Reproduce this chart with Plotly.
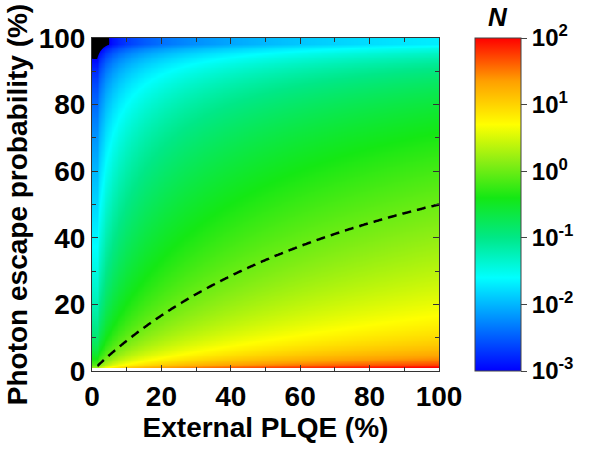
import numpy as np
import plotly.graph_objects as go

# Axis grids (percent) - sample centres of the N map
plqe = np.arange(1.5, 100.001, 0.25)       # External PLQE (%)
pesc = np.arange(1.0, 98.001, 0.25)        # Photon escape probability (%)
# N = eta_ext * (1 - P_esc) / P_esc  (average number of photon recycling events)
X, Y = np.meshgrid(plqe / 100.0, pesc / 100.0)
logN = np.log10(X * (1 - Y) / Y)

cbar_tickvals = [-3, -2, -1, 0, 1, 2]
cbar_ticktext = ["10<sup>-3</sup>", "10<sup>-2</sup>", "10<sup>-1</sup>",
                 "10<sup>0</sup>", "10<sup>1</sup>", "10<sup>2</sup>"]
axis_ticks = [0, 20, 40, 60, 80, 100]
axis_minor = [10, 30, 50, 70, 90]
zmin, zmax = -3, 2
n_level = 0  # log10(N) = 0 -> N = 1

# cell edges: the map image is stretched to the frame edges (as in the original)
x_edges = np.concatenate([[0.0], (plqe[:-1] + plqe[1:]) / 2, [100.0]])
y_edges = np.concatenate([[pesc[0] - 0.125], (pesc[:-1] + pesc[1:]) / 2, [100.0]])
# extended centres for the under-range (black) contour so it reaches the frame
x_ext = np.concatenate([[0.0], plqe])
y_ext = np.concatenate([pesc, [100.0]])
Xe, Ye = np.meshgrid(x_ext / 100.0, np.minimum(y_ext, pesc[-1]) / 100.0)
logN_ext = np.log10(np.maximum(Xe, plqe[0] / 100.0) * (1 - Ye) / Ye)

zmap = np.round(np.clip(logN, zmin, zmax), 3)

colorscale = [
    [0.0, "rgb(0,0,255)"],
    [0.14, "rgb(0,128,255)"],
    [0.28, "rgb(0,255,255)"],
    [0.40, "rgb(0,232,135)"],
    [0.52, "rgb(20,232,20)"],
    [0.63, "rgb(140,238,20)"],
    [0.74, "rgb(255,255,0)"],
    [0.87, "rgb(255,160,0)"],
    [1.0, "rgb(255,0,0)"],
]

FONT = "Liberation Sans, Arial, sans-serif"
L, R, T, B = 92, 150, 38, 81
PW = 589 - L - R
cb_x0 = (475 - L) / PW
cb_w = 46 / PW

fig = go.Figure()
fig.add_trace(go.Heatmap(
    x=x_edges, y=y_edges, z=zmap, zmin=zmin, zmax=zmax,
    colorscale=colorscale,
    colorbar=dict(
        x=cb_x0, xanchor="left", y=0.5, yanchor="middle",
        len=1.0, lenmode="fraction", ypad=0, xpad=0,
        thickness=46, thicknessmode="pixels",
        outlinewidth=1, outlinecolor="#444",
        tickvals=cbar_tickvals, ticktext=cbar_ticktext,
        ticks="outside", ticklen=6, tickcolor="#444",
        tickfont=dict(family=FONT, size=24, color="black", weight="bold"),
    ),
    hoverinfo="skip",
))
# values below the colour range (N < 1e-3) are shown in black
# (plotly shades the region that violates the constraint)
fig.add_trace(go.Contour(
    x=x_ext, y=y_ext, z=np.round(logN_ext, 3), showscale=False,
    contours=dict(type="constraint", operation=">=", value=zmin),
    fillcolor="black", line=dict(width=0, color="black"),
    hoverinfo="skip",
))
fig.add_trace(go.Contour(
    x=plqe, y=pesc, z=np.round(logN, 3), showscale=False,
    contours=dict(start=n_level, end=n_level, size=1, coloring="lines"),
    colorscale=[[0, "black"], [1, "black"]],
    line=dict(width=2.5, dash="9px,6px"),
    hoverinfo="skip",
))

fig.add_shape(type="line", xref="paper", yref="paper",
              x0=cb_x0, x1=cb_x0 + cb_w,
              y0=(n_level - zmin) / (zmax - zmin), y1=(n_level - zmin) / (zmax - zmin),
              line=dict(color="black", width=2.5, dash="9px,6px"))

fig.add_annotation(text="<b><i>N</i></b>", xref="paper", yref="paper",
                   x=cb_x0 + cb_w / 2, y=1, xanchor="center", yanchor="bottom",
                   yshift=4, showarrow=False,
                   font=dict(family=FONT, size=26, color="black"))

axis_common = dict(
    range=[0, 100], tickvals=axis_ticks,
    ticks="inside", ticklen=6, tickwidth=1, tickcolor="#333",
    minor=dict(tickvals=axis_minor, ticks="inside", ticklen=4, tickcolor="#333"),
    showline=True, linecolor="#333", linewidth=1, mirror="ticks",
    showgrid=False, zeroline=False,
    tickfont=dict(family=FONT, size=28, color="black", weight="bold"),
)

fig.update_layout(
    width=589, height=452,
    margin=dict(l=L, r=R, t=T, b=B, autoexpand=False),
    paper_bgcolor="white", plot_bgcolor="white",
    xaxis=dict(**axis_common,
               title=dict(text="<b>External PLQE (%)</b>", standoff=4,
                          font=dict(family=FONT, size=28, color="black"))),
    yaxis=dict(**axis_common,
               title=dict(text="<b>Photon escape probability (%)</b>", standoff=2,
                          font=dict(family=FONT, size=28, color="black"))),
    showlegend=False,
)

fig.write_html("out.html", config={"displayModeBar": False},
               post_script="document.body.style.margin='0';document.body.style.overflow='hidden';")
